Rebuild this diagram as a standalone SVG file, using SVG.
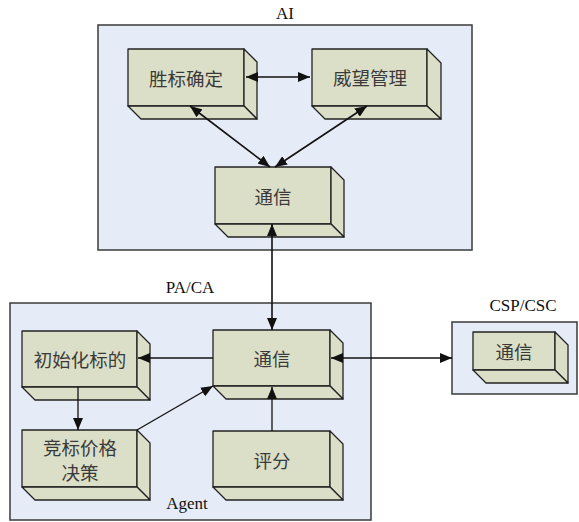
<svg xmlns="http://www.w3.org/2000/svg" width="579" height="522" viewBox="0 0 579 522">
<style>
.panel{fill:#e6ecf7;stroke:#3a3a3a;stroke-width:1.5}
.face{fill:#dcdfc7;stroke:#222;stroke-width:1.3;stroke-linejoin:round}
.cn{font-family:"Noto Sans CJK SC","Noto Sans CJK JP",sans-serif;font-size:18.5px;fill:#3a3a3a;text-anchor:middle;dominant-baseline:central}
.lb{font-family:"Liberation Serif","Times New Roman",serif;font-size:17px;fill:#111;text-anchor:middle;dominant-baseline:central}
.ln{fill:none;stroke:#111;stroke-width:1.6}
.ln2{fill:none;stroke:#111;stroke-width:1.3}
</style>
<defs>
<marker id="ah" viewBox="0 0 12 10" refX="12" refY="5" markerWidth="12" markerHeight="10" markerUnits="userSpaceOnUse" orient="auto-start-reverse">
<path d="M0,0 L12,5 L0,10 z" fill="#111"/>
</marker>
</defs>
<rect width="579" height="522" fill="#fff"/>

<g id="panel-ai">
<rect class="panel" x="98" y="25" width="374" height="225"/>
<text class="lb" x="285" y="13">AI</text>
</g>
<g id="panel-paca">
<rect class="panel" x="10" y="303" width="361" height="217"/>
<text class="lb" x="190" y="287">PA/CA</text>
<text class="lb" x="187" y="503">Agent</text>
</g>
<g id="panel-csp">
<rect class="panel" x="452" y="322" width="125" height="72"/>
<text class="lb" x="523" y="305">CSP/CSC</text>
</g>

<g id="node-shengbiao">
<rect class="face" x="128" y="49" width="116" height="57"/>
<polygon class="face" points="244,49 257,62 257,119 244,106"/>
<polygon class="face" points="128,106 244,106 257,119 141,119"/>
<text class="cn" x="186" y="78">胜标确定</text>
</g>
<g id="node-weiwang">
<rect class="face" x="312" y="49" width="115" height="57"/>
<polygon class="face" points="427,49 441,63 441,119 427,106"/>
<polygon class="face" points="312,106 427,106 441,119 325,119"/>
<text class="cn" x="370" y="77">威望管理</text>
</g>
<g id="node-ai-tongxin">
<rect class="face" x="215" y="167" width="116" height="57"/>
<polygon class="face" points="331,167 344,180 344,237 331,224"/>
<polygon class="face" points="215,224 331,224 344,237 228,237"/>
<text class="cn" x="273" y="196">通信</text>
</g>

<g id="node-chushihua">
<rect class="face" x="22" y="331" width="115" height="56"/>
<polygon class="face" points="137,331 150,344 150,400 137,387"/>
<polygon class="face" points="22,387 137,387 150,400 35,400"/>
<text class="cn" x="80" y="359">初始化标的</text>
</g>
<g id="node-jingbiao">
<rect class="face" x="22" y="430" width="115" height="57"/>
<polygon class="face" points="137,430 150,443 150,500 137,487"/>
<polygon class="face" points="22,487 137,487 150,500 35,500"/>
<text class="cn" x="80" y="447"><tspan x="80" y="447">竞标价格</tspan><tspan x="80" y="472">决策</tspan></text>
</g>
<g id="node-pa-tongxin">
<rect class="face" x="213" y="330" width="117" height="56"/>
<polygon class="face" points="330,330 343,343 343,399 330,386"/>
<polygon class="face" points="213,386 330,386 343,399 226,399"/>
<text class="cn" x="272" y="358">通信</text>
</g>
<g id="node-pingfen">
<rect class="face" x="213" y="431" width="117" height="56"/>
<polygon class="face" points="330,431 343,444 343,500 330,487"/>
<polygon class="face" points="213,487 330,487 343,500 226,500"/>
<text class="cn" x="272" y="460">评分</text>
</g>
<g id="node-csp-tongxin">
<rect class="face" x="473" y="332" width="82" height="38"/>
<polygon class="face" points="555,332 568,345 568,383 555,370"/>
<polygon class="face" points="473,370 555,370 568,383 486,383"/>
<text class="cn" x="514" y="351">通信</text>
</g>

<g id="connectors">
<line class="ln" x1="246" y1="77" x2="310" y2="77" marker-start="url(#ah)" marker-end="url(#ah)"/>
<line class="ln" x1="190" y1="106" x2="270" y2="167" marker-start="url(#ah)" marker-end="url(#ah)"/>
<line class="ln" x1="367" y1="106" x2="275" y2="167" marker-start="url(#ah)" marker-end="url(#ah)"/>
<line class="ln" x1="272" y1="224" x2="272" y2="330" marker-start="url(#ah)" marker-end="url(#ah)"/>
<line class="ln2" x1="213" y1="358" x2="138" y2="358" marker-end="url(#ah)"/>
<line class="ln2" x1="78" y1="387" x2="78" y2="430" marker-end="url(#ah)"/>
<line class="ln2" x1="137" y1="430" x2="213" y2="386" marker-end="url(#ah)"/>
<line class="ln2" x1="272" y1="431" x2="272" y2="387" marker-end="url(#ah)"/>
<line class="ln2" x1="331" y1="358" x2="452" y2="358" marker-start="url(#ah)" marker-end="url(#ah)"/>
</g>
</svg>
